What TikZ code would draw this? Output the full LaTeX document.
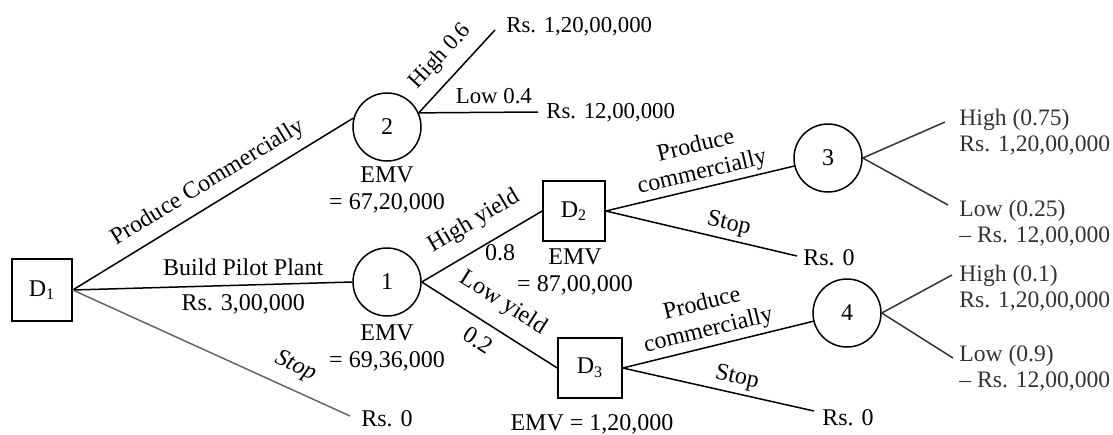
\documentclass[tikz,border=0pt]{standalone}
\usepackage{fontspec}
\setmainfont{Liberation Serif}
\begin{document}
\begin{tikzpicture}[x=0.5pt,y=-0.5pt,
  every node/.style={font=\fontsize{12}{13.5}\selectfont, inner sep=1pt, text=black},
  small/.style={font=\fontsize{11.4}{13}\selectfont},
  decbox/.style={draw=black, line width=0.75pt, inner sep=0pt, minimum width=30pt, minimum height=31pt},
  chance/.style={draw=black, circle, line width=0.75pt, minimum size=34pt, inner sep=0pt},
  br/.style={line width=0.75pt},
  faint/.style={line width=0.75pt, draw=black!60},
  endtxt/.style={anchor=west, align=left, text=black!80, font=\fontsize{11.8}{12.8}\selectfont},
  lbl/.style={sloped}
]
\useasboundingbox (0,0) rectangle (1113,434);

% decision and chance nodes
\node[decbox] (d1) at (42,290) {D\textsubscript{1}};
\node[chance] (c2) at (387,127) {2};
\node[chance] (c1) at (387,282) {1};
\node[decbox, minimum width=31pt, minimum height=30pt] (d2) at (574,211) {D\textsubscript{2}};
\node[decbox, minimum width=32pt, minimum height=30pt] (d3) at (590,368) {D\textsubscript{3}};
\node[chance] (c3) at (828,158) {3};
\node[chance] (c4) at (847,313) {4};

% free ends
\coordinate (s1) at (350,416);
\coordinate (h2) at (495,30);
\coordinate (l2) at (538,112);
\coordinate (s2) at (797,256);
\coordinate (s3) at (814,411);
\coordinate (h3) at (945,122);
\coordinate (l3) at (948,205);
\coordinate (h4) at (952,275);
\coordinate (l4) at (953,358);

% end texts
\node[anchor=west, small] (th2) at (504,27) {Rs. 1,20,00,000};
\node[anchor=west, small] (tl2) at (544,113) {Rs. 12,00,000};
\node (ts1) at (387,419) {Rs. 0};
\node (ts2) at (829,258) {Rs. 0};
\node (ts3) at (848,418) {Rs. 0};
\node[endtxt] (th3) at (957,132) {High (0.75)\\Rs. 1,20,00,000};
\node[endtxt] (tl3) at (957,223) {Low (0.25)\\-- Rs. 12,00,000};
\node[endtxt] (th4) at (957,288) {High (0.1)\\Rs. 1,20,00,000};
\node[endtxt] (tl4) at (957,368) {Low (0.9)\\-- Rs. 12,00,000};

% EMV texts
\node[align=center] (e2) at (387,190) {EMV\\= 67,20,000};
\node[align=center] (e1) at (387,348) {EMV\\= 69,36,000};
\node[align=center] (ed2) at (575,272) {EMV\\= 87,00,000};
\node (ed3) at (592,424) {EMV = 1,20,000};

% branches from D1
\draw[br] (d1.east) -- node[lbl, above=3.5pt, pos=0.52] (lpc) {Produce Commercially} (c2.165);
\draw[br] (d1.east) -- node[above=3.5pt, pos=0.61] (lbp) {Build Pilot Plant}
                       node[below=3.5pt, pos=0.61] (lbc) {Rs. 3,00,000} (c1.west);
\draw[faint] (d1.east) -- node[lbl, above=4.5pt, pos=0.77] (lst1) {\itshape Stop} (s1);

% branches from node 2
\draw[br] (c2.24) -- node[lbl, above=4.5pt, pos=0.5, small] (lh2) {High 0.6} (h2);
\draw[br] (c2.24) -- node[above=3pt, pos=0.63, small] (ll2) {Low 0.4} (l2);

% branches from node 1
\draw[br] (c1.east) -- node[lbl, above=6pt, pos=0.54] (lhy) {High yield}
                       node[below=3pt, pos=0.65] (lp8) {0.8} (d2.west);
\draw[br] (c1.east) -- node[lbl, above=6pt, pos=0.5] (lly) {Low yield}
                       node[lbl, below=4pt, pos=0.49] (lp2) {0.2} (d3.west);

% branches from D2
\draw[br] (d2.east) -- node[lbl, above=0.5pt, pos=0.53, align=center] (lpc2) {Produce\\commercially} (c3);
\draw[br] (d2.east) -- node[lbl, above=1pt, pos=0.625] (lst2) {Stop} (s2);

% branches from D3
\draw[br] (d3.east) -- node[lbl, above=1pt, pos=0.47, align=center] (lpc3) {Produce\\commercially} (c4);
\draw[br] (d3.east) -- node[lbl, above=1pt, pos=0.58] (lst3) {Stop} (s3);

% outcome branches
\draw[br, draw=black!80] (c3.east) -- (h3);
\draw[br, draw=black!80] (c3.east) -- (l3);
\draw[br, draw=black!80] (c4.east) -- (h4);
\draw[br, draw=black!80] (c4.east) -- (l4);
\end{tikzpicture}
\end{document}
